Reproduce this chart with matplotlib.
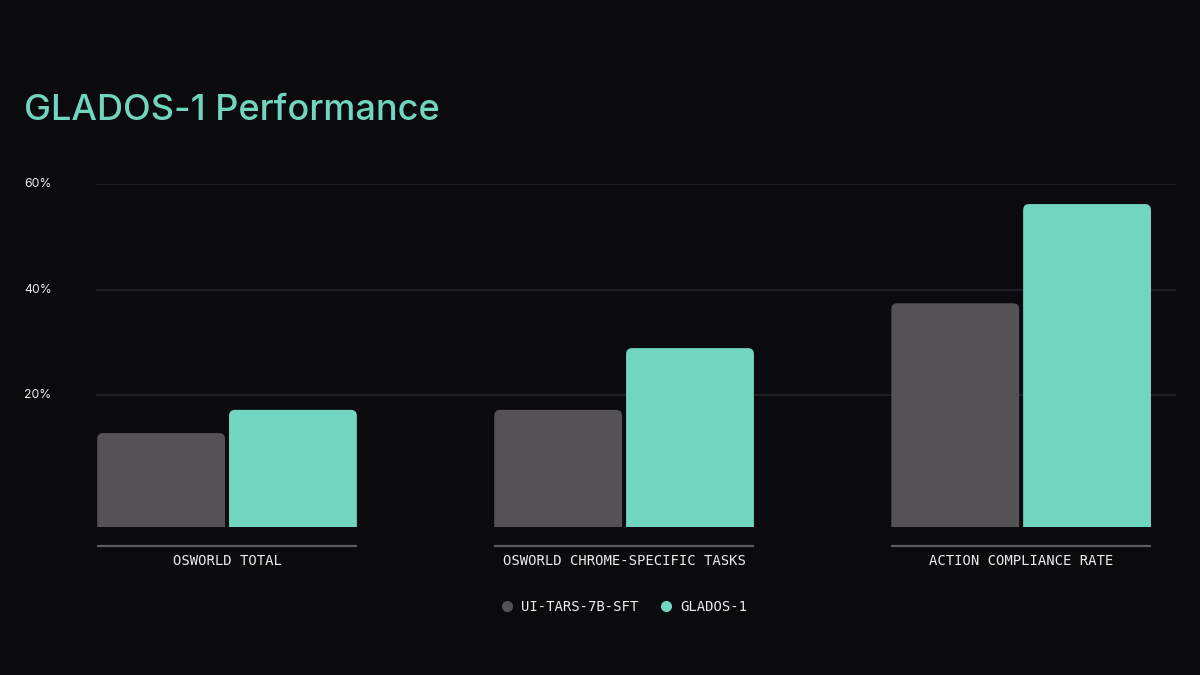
import matplotlib.pyplot as plt
from matplotlib.patches import PathPatch
from matplotlib.path import Path
from matplotlib.lines import Line2D
from matplotlib.transforms import blended_transform_factory

categories = ['OSWORLD TOTAL', 'OSWORLD CHROME-SPECIFIC TASKS', 'ACTION COMPLIANCE RATE']
series_names = ['UI-TARS-7B-SFT', 'GLADOS-1']
ui_tars = [12.8, 17.2, 37.4]
glados = [17.2, 28.9, 56.2]
yticks = [20, 40, 60]
ytick_labels = ['20%', '40%', '60%']

bg = '#0b0a0e'
gray = '#545255'
teal = '#72d5bf'
txt = '#ececec'
mono = 'DejaVu Sans Mono'
sans = 'Inter'

base = -5.0  # bars start below the 0 line in the original
fig = plt.figure(figsize=(12, 6.75), dpi=100, facecolor=bg)
ax = fig.add_axes([0.08, 1 - 527 / 675, 0.90, (527 - 184) / 675])
ax.set_facecolor(bg)
ax.set_xlim(-0.33, 2.39)
ax.set_ylim(base, 60)
for s in ax.spines.values():
	s.set_visible(False)
ax.set_xticks([])
ax.set_yticks([])

for y in yticks:
	ax.axhline(y, color='#222126', lw=1.3, zorder=0)

trans = blended_transform_factory(fig.transFigure, ax.transData)
for y, lab in zip(yticks, ytick_labels):
	ax.text(0.02, y, lab, transform=trans, ha='left', va='center', color=txt,
			fontsize=8.8, family=sans)

w = 0.322
off = 0.166
x = list(range(len(categories)))
bars1 = ax.bar([i - off for i in x], [v - base for v in ui_tars], w, bottom=base, color=gray)
bars2 = ax.bar([i + off for i in x], [v - base for v in glados], w, bottom=base, color=teal)

# swap plain bars for ones with rounded top corners (~6px)
rx = 6 / 397.0
ry = 6 / 5.277
for bars, c in [(bars1, gray), (bars2, teal)]:
	for b in bars:
		b.set_visible(False)
		x0, y0 = b.get_x(), b.get_y()
		x1, y1 = x0 + b.get_width(), y0 + b.get_height()
		verts = [(x0, y0), (x1, y0), (x1, y1 - ry), (x1, y1), (x1 - rx, y1),
				 (x0 + rx, y1), (x0, y1), (x0, y1 - ry), (x0, y0)]
		codes = [Path.MOVETO, Path.LINETO, Path.LINETO, Path.CURVE3, Path.CURVE3,
				 Path.LINETO, Path.CURVE3, Path.CURVE3, Path.CLOSEPOLY]
		ax.add_patch(PathPatch(Path(verts, codes), fc=c, ec='none', zorder=2))

for i, cat in enumerate(categories):
	ax.plot([i - off - w / 2, i + off + w / 2], [base - 3.54, base - 3.54],
			color='#5c5b5f', lw=1.6, clip_on=False, solid_capstyle='butt')
	ax.text(i, base - 6.4, cat, ha='center', va='center', color=txt,
			fontsize=10, family=mono, clip_on=False)

fig.text(0.02, 1 - 120 / 675, 'GLADOS-1 Performance', color=teal, fontsize=26,
		 family=sans, weight='medium', ha='left', va='baseline')

handles = [Line2D([], [], ls='none', marker='o', ms=8, color=c, mec='none') for c in (gray, teal)]
leg = fig.legend(handles, series_names, loc='center', bbox_to_anchor=(0.521, 1 - 607 / 675),
				 ncol=2, frameon=False, handlelength=0.5, handletextpad=0.75,
				 columnspacing=1.75, prop={'family': mono, 'size': 10})
for t in leg.get_texts():
	t.set_color(txt)

fig.savefig('out.png', facecolor=bg)
